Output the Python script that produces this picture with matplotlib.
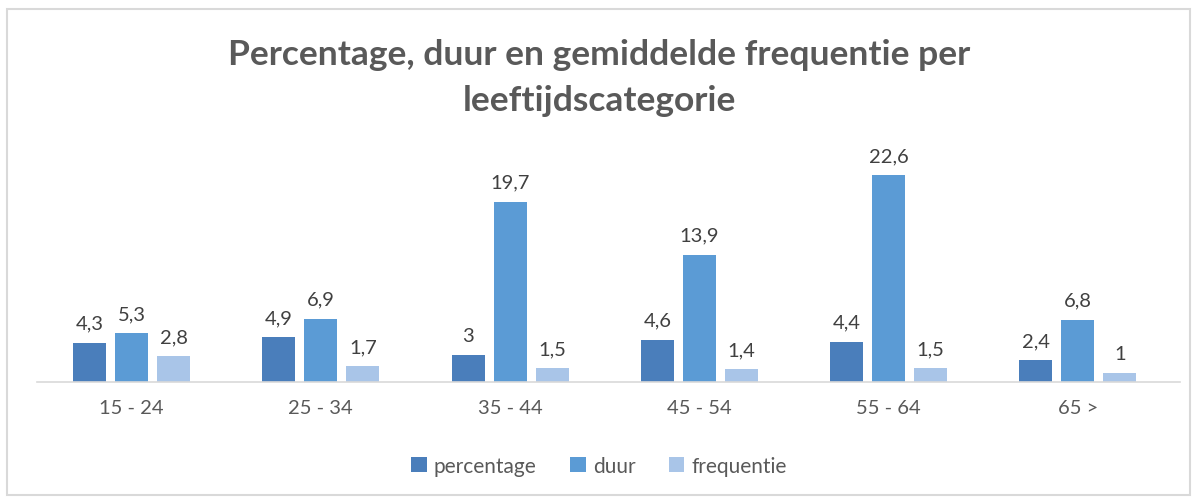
import matplotlib
matplotlib.use("Agg")
import matplotlib.pyplot as plt
import numpy as np
from matplotlib.patches import Rectangle

categories = ["15 - 24", "25 - 34", "35 - 44", "45 - 54", "55 - 64", "65 >"]
percentage = [4.3, 4.9, 3, 4.6, 4.4, 2.4]
duur = [5.3, 6.9, 19.7, 13.9, 22.6, 6.8]
frequentie = [2.8, 1.7, 1.5, 1.4, 1.5, 1]
series_names = ["percentage", "duur", "frequentie"]
colors = ["#4A7EBB", "#5B9BD5", "#A9C5E8"]

plt.rcParams['font.family'] = ['Lato', 'DejaVu Sans']

fig = plt.figure(figsize=(11.98, 5.02), dpi=100)
fig.patches.append(Rectangle((7/1198, 1-496/502), 1183/1198, 486/502, transform=fig.transFigure,
                             fill=False, edgecolor="#D9D9D9", linewidth=1.5))

ax = fig.add_axes([37/1198, 1-383/502, 1143/1198, 229/502])
x = np.arange(len(categories))
w = 0.174
off = 0.222
def fmt(v):
    return ("%g" % v).replace(".", ",")
for i, (vals, name) in enumerate(zip([percentage, duur, frequentie], series_names)):
    bars = ax.bar(x + (i - 1) * off, vals, w, color=colors[i], label=name)
    for b, v in zip(bars, vals):
        ax.text(b.get_x() + b.get_width() / 2, v + 1.2, fmt(v), ha="center", va="bottom",
                fontsize=14.5, color="#404040")

ax.set_xlim(-0.5, len(categories) - 0.5 + 0.04)
ax.set_ylim(0, 25)
ax.set_xticks(x)
ax.set_xticklabels(categories, fontsize=14.5, color="#595959")
ax.tick_params(axis='x', length=0, pad=12)
ax.set_yticks([])
for s in ["top", "right", "left"]:
    ax.spines[s].set_visible(False)
ax.spines["bottom"].set_color("#D9D9D9")
ax.spines["bottom"].set_linewidth(1.2)

fig.text(0.5, 1-55/502, "Percentage, duur en gemiddelde frequentie per", ha="center", va="center",
         fontsize=25.5, fontweight="bold", color="#595959")
fig.text(0.5, 1-101/502, "leeftijdscategorie", ha="center", va="center",
         fontsize=25.5, fontweight="bold", color="#595959")

fig.legend(loc="center", bbox_to_anchor=(0.5, 1-467/502), ncol=3, frameon=False,
           fontsize=15, handlelength=0.75, handleheight=0.75, handletextpad=0.35,
           columnspacing=1.6, labelcolor="#595959")

fig.savefig("out.png", dpi=100)
